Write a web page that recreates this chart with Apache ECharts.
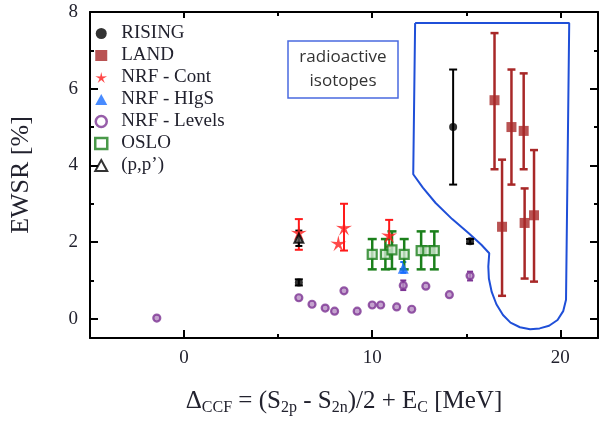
<!DOCTYPE html>
<html><head><meta charset="utf-8">
<script src="https://cdn.jsdelivr.net/npm/echarts@6/dist/echarts.min.js"></script>
<style>html,body{margin:0;padding:0;background:#fff}#c{width:603px;height:421px}</style>
</head><body><div id="c"></div>
<script>
// ---- data ----
const risingX = [14.3, 6.1, 15.2];
const risingY = [5.0, 0.95, 2.02];
const risingLo = [3.5, 0.87, 1.96];
const risingHi = [6.5, 1.03, 2.08];

const landX = [16.5, 16.9, 17.4, 18.05, 18.1, 18.6];
const landY = [5.7, 2.4, 5.0, 4.9, 2.5, 2.7];
const landLo = [3.9, 0.6, 3.5, 3.9, 1.05, 0.97];
const landHi = [7.45, 4.15, 6.5, 6.4, 3.4, 4.4];

const contX = [6.1, 8.2, 8.5, 10.9];
const contY = [2.25, 1.97, 2.38, 2.18];
const contLo = [1.8, null, 1.78, 1.88];
const contHi = [2.6, null, 3.0, 2.58];

const higsX = [11.65];
const higsY = [1.32];
const higsLo = [1.2];
const higsHi = [1.48];

const levelsX = [-1.45, 6.1, 6.8, 7.5, 8.0, 8.5, 9.2, 10.0, 10.45, 11.3, 11.65, 12.1, 12.85, 14.1, 15.2];
const levelsY = [0.02, 0.55, 0.38, 0.28, 0.2, 0.73, 0.2, 0.36, 0.36, 0.31, 0.87, 0.25, 0.85, 0.63, 1.12];
const levelsLo = [null, null, null, null, null, null, null, null, null, null, 0.75, null, null, null, 1.0];
const levelsHi = [null, null, null, null, null, null, null, null, null, null, 1.0, null, null, null, 1.23];

const osloX = [10.0, 10.7, 11.05, 11.7, 12.6, 12.95, 13.3];
const osloY = [1.68, 1.68, 1.8, 1.68, 1.78, 1.78, 1.78];
const osloLo = [1.29, 1.29, 1.3, 1.29, 1.29, null, 1.29];
const osloHi = [2.08, 2.08, 2.28, 2.08, 2.28, null, 2.28];

const ppX = [6.1];
const ppY = [2.1];
const ppLo = [1.9];
const ppHi = [2.3];

// outline of the "radioactive isotopes" region (data units)
const regionX = [12.28, 20.47, 20.3, 20.15, 19.85, 19.4, 18.9, 18.39, 17.85, 17.35, 16.95, 16.6, 16.35, 16.2, 16.17, 16.22, 15.8, 15.13, 14.25, 13.37, 12.69, 12.18, 12.28];
const regionY = [7.71, 7.71, 0.5, 0.2, -0.03, -0.18, -0.25, -0.27, -0.22, -0.1, 0.1, 0.38, 0.7, 1.05, 1.36, 1.71, 1.93, 2.23, 2.6, 3.02, 3.42, 3.77, 7.71];

const xMajorTicks = [0, 10, 20];
const xMinorTicks = [5, 15];
const yMajorTicks = [0, 2, 4, 6, 8];
const yMinorTicks = [1, 3, 5, 7];

const seriesNames = ['RISING', 'LAND', 'NRF - Cont', 'NRF - HIgS', 'NRF - Levels', 'OSLO', '(p,p\u2019)'];

// ---- helpers ----
const starPath = 'path://M10,0L11.76,7.57L19.51,6.91L12.85,10.93L15.88,18.09L10,13L4.12,18.09L7.15,10.93L0.49,6.91L8.24,7.57Z';
const pts = (xs, ys) => xs.map((x, i) => [x, ys[i]]);
const errs = (xs, lo, hi) => xs.map((x, i) => [x, lo[i], hi[i]]).filter(d => d[1] != null);
function errSeries(data, color, lw, cap) {
  return {
    type: 'custom', silent: true, z: 2,
    data: data,
    encode: { x: 0, y: [1, 2] },
    renderItem: function (params, api) {
      const x = api.value(0), lo = api.value(1), hi = api.value(2);
      const a = api.coord([x, lo]), b = api.coord([x, hi]);
      const st = { stroke: color, lineWidth: lw };
      return { type: 'group', children: [
        { type: 'line', shape: { x1: a[0], y1: a[1], x2: b[0], y2: b[1] }, style: st },
        { type: 'line', shape: { x1: a[0] - cap / 2, y1: a[1], x2: a[0] + cap / 2, y2: a[1] }, style: st },
        { type: 'line', shape: { x1: b[0] - cap / 2, y1: b[1], x2: b[0] + cap / 2, y2: b[1] }, style: st }
      ]};
    }
  };
}
const serif = 'Liberation Serif, Times New Roman, serif';
const textCol = '#22222e';
const X0 = -5, X1 = 22, Y0 = -0.5, Y1 = 8;

function xAx(pos, ticks, len, showLine, showLabel) {
  return {
    type: 'value', position: pos, min: X0, max: X1, interval: 5,
    axisLine: { show: showLine, onZero: false, lineStyle: { color: '#000', width: 2 } },
    axisTick: { show: true, inside: true, length: len, customValues: ticks, lineStyle: { color: '#000', width: 2 } },
    axisLabel: showLabel ? { show: true, customValues: xMajorTicks, fontFamily: serif, fontSize: 19, color: textCol, margin: 11 } : { show: false },
    splitLine: { show: false }
  };
}
function yAx(pos, ticks, len, showLine, showLabel) {
  return {
    type: 'value', position: pos, min: Y0, max: Y1, interval: 0.5,
    axisLine: { show: showLine, onZero: false, lineStyle: { color: '#000', width: 2 } },
    axisTick: { show: true, inside: true, length: len, customValues: ticks, lineStyle: { color: '#000', width: 2 } },
    axisLabel: showLabel ? { show: true, customValues: yMajorTicks, fontFamily: serif, fontSize: 19, color: textCol, margin: 12 } : { show: false },
    splitLine: { show: false }
  };
}

const xBottom = xAx('bottom', xMajorTicks, 8, true, true);
xBottom.name = '{n|\u0394}{s|CCF}{n| = (S}{s|2p}{n| - S}{s|2n}{n|)/2 + E}{s|C}{n| [MeV]}';
xBottom.nameLocation = 'middle';
xBottom.nameGap = 48;
xBottom.nameTextStyle = {
  rich: {
    n: { fontFamily: serif, fontSize: 25, color: textCol, lineHeight: 30 },
    s: { fontFamily: serif, fontSize: 16, color: textCol, lineHeight: 14, verticalAlign: 'bottom' }
  }
};
const yLeft = yAx('left', yMajorTicks, 8, true, true);
yLeft.name = 'EWSR [%]';
yLeft.nameLocation = 'middle';
yLeft.nameGap = 56;
yLeft.nameTextStyle = { fontFamily: serif, fontSize: 26, color: textCol };

const C = {
  rising: '#000000', land: '#a82828', cont: '#ff1a1a', higs: '#1a6eff',
  levels: '#7d3594', oslo: '#1b801b', pp: '#000000', region: '#1f4fd8'
};

const option = {
  animation: false,
  backgroundColor: '#fff',
  grid: { left: 78, right: 5, top: 12, bottom: 65, containLabel: false },
  xAxis: [
    xBottom,
    xAx('bottom', xMinorTicks, 4, false, false),
    xAx('top', xMajorTicks, 6, true, false),
    xAx('top', xMinorTicks, 4, false, false)
  ],
  yAxis: [
    yLeft,
    yAx('left', yMinorTicks, 4, false, false),
    yAx('right', yMajorTicks, 8, true, false),
    yAx('right', yMinorTicks, 4, false, false)
  ],
  legend: {
    orient: 'vertical', left: 94, top: 24, padding: 0,
    itemWidth: 12, itemHeight: 11, itemGap: 3,
    formatter: function (n) { return '{t|' + n + '}'; },
    textStyle: { fontFamily: serif, fontSize: 19, color: textCol, lineHeight: 19,
      rich: { t: { fontFamily: serif, fontSize: 19, color: textCol, lineHeight: 19, padding: [0, 0, 0, 9] } } },
    data: [
      { name: 'RISING', itemStyle: { color: C.rising } },
      { name: 'LAND', itemStyle: { color: C.land } },
      { name: 'NRF - Cont', itemStyle: { color: C.cont } },
      { name: 'NRF - HIgS', itemStyle: { color: C.higs } },
      { name: 'NRF - Levels', itemStyle: { color: '#ffffff', borderColor: C.levels, borderWidth: 2.5 } },
      { name: 'OSLO', itemStyle: { color: '#ffffff', borderColor: C.oslo, borderWidth: 2.5 } },
      { name: '(p,p\u2019)', itemStyle: { color: '#ffffff', borderColor: C.pp, borderWidth: 2 } }
    ]
  },
  graphic: [
    { type: 'rect', shape: { x: 288, y: 41, width: 110, height: 57 }, style: { fill: 'none', stroke: '#4a6ae0', lineWidth: 1.5 } },
    { type: 'text', x: 343, y: 69, style: { text: 'radioactive\nisotopes', fontFamily: 'Open Sans, Liberation Sans, sans-serif', fontSize: 17, lineHeight: 24, fill: '#333', align: 'center', verticalAlign: 'middle' } }
  ],
  series: [
    { type: 'line', silent: true, symbol: 'none', data: pts(regionX, regionY), lineStyle: { color: C.region, width: 2 }, z: 1 },
    errSeries(errs(landX, landLo, landHi), C.land, 2.5, 8),
    errSeries(errs(risingX, risingLo, risingHi), C.rising, 2, 8),
    errSeries(errs(contX, contLo, contHi), C.cont, 2, 8),
    errSeries(errs(higsX, higsLo, higsHi), C.higs, 2, 6),
    errSeries(errs(levelsX, levelsLo, levelsHi), C.levels, 2, 6),
    errSeries(errs(osloX, osloLo, osloHi), C.oslo, 2.5, 9),
    errSeries(errs(ppX, ppLo, ppHi), C.pp, 2, 7),
    { name: 'RISING', type: 'scatter', symbol: 'circle', symbolSize: 8, data: pts(risingX, risingY), itemStyle: { color: C.rising }, z: 5 },
    { name: 'LAND', type: 'scatter', symbol: 'rect', symbolSize: 10, data: pts(landX, landY), itemStyle: { color: C.land }, z: 5 },
    { name: 'NRF - Cont', type: 'scatter', symbol: starPath, symbolSize: 16, data: pts(contX, contY), itemStyle: { color: C.cont }, z: 5 },
    { name: 'NRF - HIgS', type: 'scatter', symbol: 'triangle', symbolSize: 11, data: pts(higsX, higsY), itemStyle: { color: C.higs }, z: 5 },
    { name: 'NRF - Levels', type: 'scatter', symbol: 'circle', symbolSize: 7, data: pts(levelsX, levelsY), itemStyle: { color: '#b58cc2', borderColor: C.levels, borderWidth: 2.2 }, z: 5 },
    { name: 'OSLO', type: 'scatter', symbol: 'rect', symbolSize: 9, data: pts(osloX, osloY), itemStyle: { color: '#cfe6cf', borderColor: C.oslo, borderWidth: 2.2 }, z: 5 },
    { name: '(p,p\u2019)', type: 'scatter', symbol: 'triangle', symbolSize: 9, data: pts(ppX, ppY), itemStyle: { color: '#555', borderColor: C.pp, borderWidth: 2 }, z: 5 }
  ]
};
const chart = echarts.init(document.getElementById('c'), null, { renderer: 'canvas' });
chart.setOption(option);
</script>
</body></html>
